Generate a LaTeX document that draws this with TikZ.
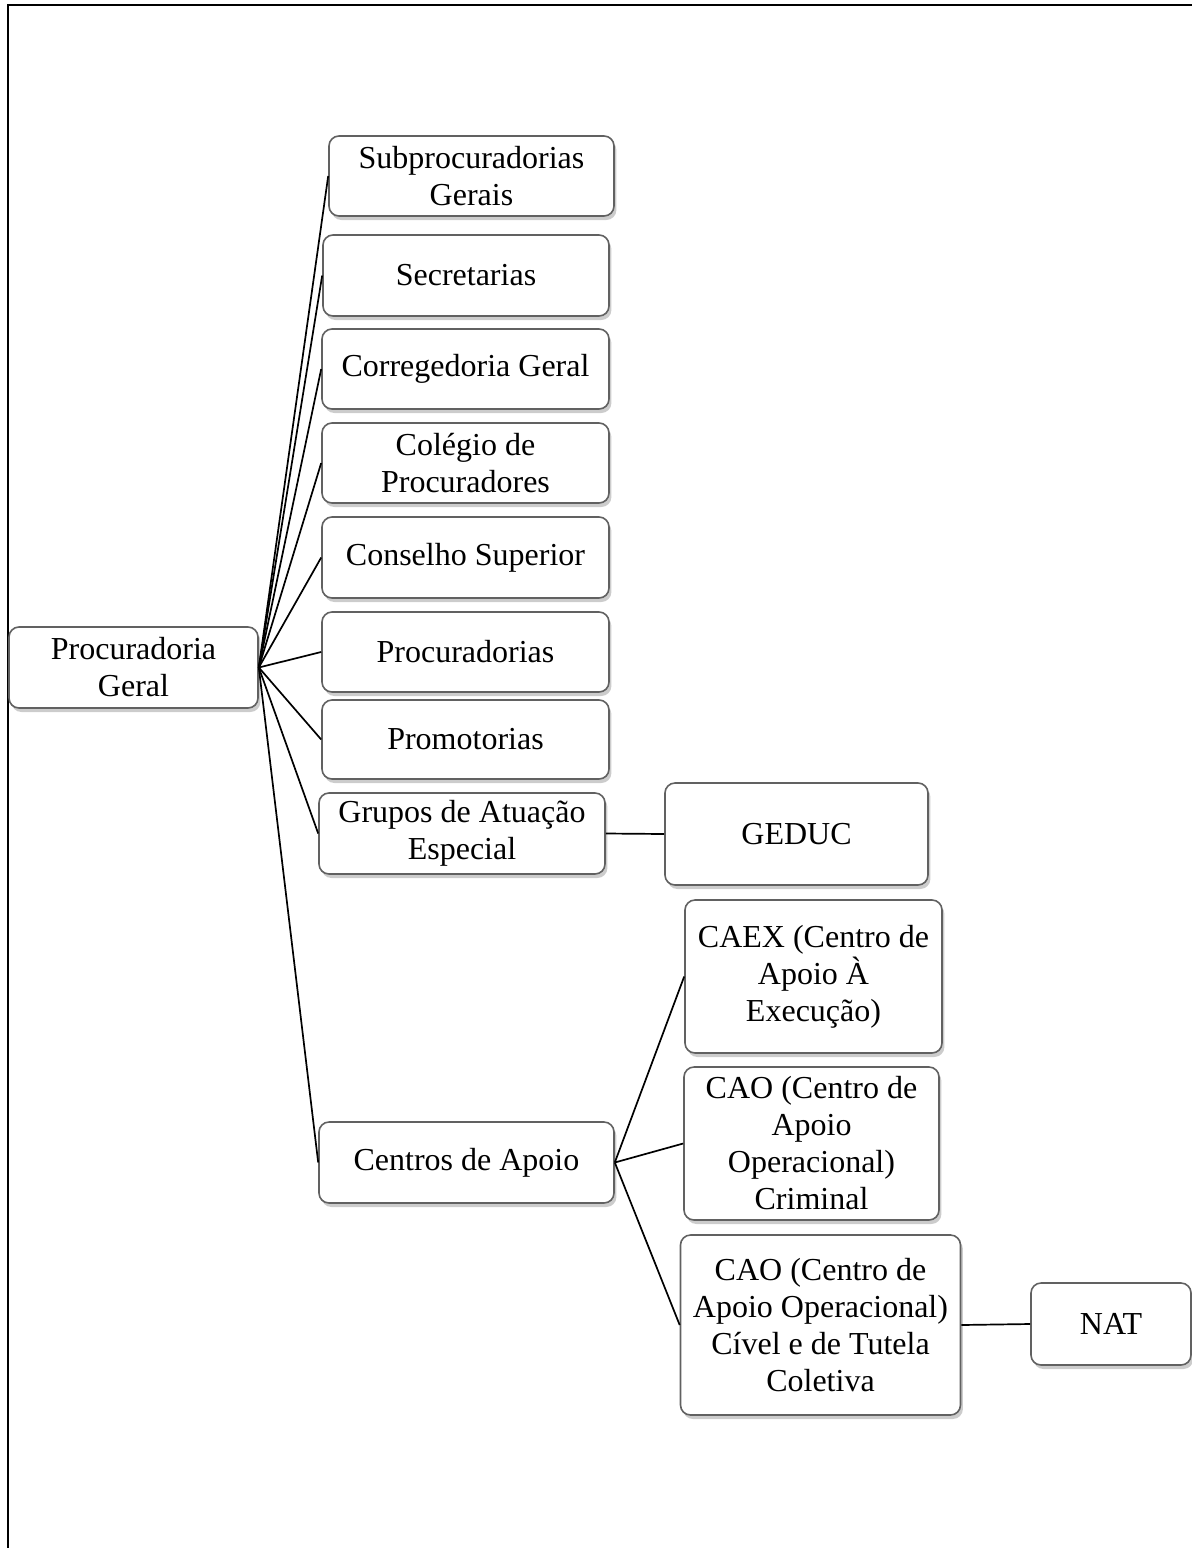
\documentclass[tikz,border=0pt]{standalone}
\usepackage{fontspec}
\setmainfont{Liberation Serif}
\usetikzlibrary{shadows}
\begin{document}
\begin{tikzpicture}[x=0.5pt,y=-0.5pt,
  box/.style={draw=black!62, line width=0.8pt, rounded corners=5pt, fill=white,
    align=center, inner sep=0pt, font=\fontsize{16}{18.5}\selectfont,
    drop shadow={opacity=0.4, shadow xshift=1.2pt, shadow yshift=-2pt}},
  conn/.style={draw=black, line width=0.85pt}]
\useasboundingbox (0,0) rectangle (1192,1548);
\draw[line width=1pt] (7.5,1548) -- (7.5,5) -- (1192,5);
\newcommand{\bx}[6]{\node[box, minimum width=#4*0.5pt, minimum height=#5*0.5pt] (#1) at (#2,#3) {#6};}
\bx{pg}{133.5}{667.5}{249}{81}{Procuradoria\\Geral}
\bx{sub}{471.5}{176}{285}{80}{Subprocuradorias\\Gerais}
\bx{sec}{466}{275.5}{286}{81}{Secretarias}
\bx{cor}{465.5}{369}{287}{80}{Corregedoria Geral}
\bx{col}{465.5}{463}{287}{80}{Colégio de\\Procuradores}
\bx{con}{465.5}{557.5}{287}{81}{Conselho Superior}
\bx{proc}{465.5}{652}{287}{80}{Procuradorias}
\bx{prom}{465.5}{739.5}{287}{79}{Promotorias}
\bx{gru}{462}{833.5}{286}{81}{Grupos de Atuação\\Especial}
\bx{geduc}{796.5}{834}{263}{102}{GEDUC}
\bx{cen}{466.5}{1162.5}{295}{81}{Centros de Apoio}
\bx{caex}{813.5}{976.5}{257}{153}{CAEX (Centro de\\Apoio À\\Execução)}
\bx{caoc}{811.5}{1143.5}{255}{153}{CAO (Centro de\\Apoio\\Operacional)\\Criminal}
\bx{caov}{820.5}{1325}{280}{180}{CAO (Centro de\\Apoio Operacional)\\Cível e de Tutela\\Coletiva}
\bx{nat}{1111}{1324}{160}{82}{NAT}
\foreach \c in {sub,sec,cor,col,con,proc,prom,gru,cen}
  \draw[conn] (pg.east) -- (\c.west);
\draw[conn] (gru.east) -- (geduc.west);
\foreach \c in {caex,caoc,caov}
  \draw[conn] (cen.east) -- (\c.west);
\draw[conn] (caov.east) -- (nat.west);
\end{tikzpicture}
\end{document}
